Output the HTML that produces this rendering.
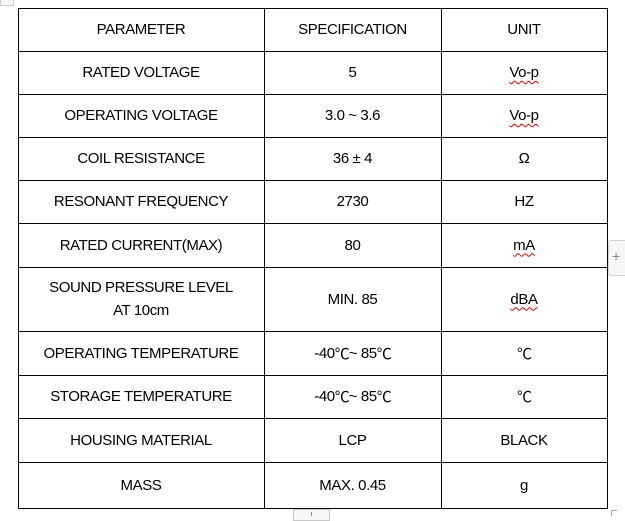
<!DOCTYPE html>
<html>
<head>
<meta charset="utf-8">
<style>
html,body{margin:0;padding:0;background:#fff;}
body{width:625px;height:516px;position:relative;overflow:hidden;font-family:"Liberation Sans","Noto Sans CJK SC",sans-serif;color:#000;}
.h{position:absolute;height:1px;background:#000;left:18px;width:590px;}
.v{position:absolute;width:1px;background:#000;top:8px;height:501px;}
.c{position:absolute;display:flex;align-items:center;justify-content:center;text-align:center;font-size:15px;letter-spacing:-0.4px;line-height:23px;}
.w{text-decoration:underline wavy #e00000;text-decoration-thickness:1px;text-underline-offset:3px;}
.deg{font-family:"Noto Sans CJK SC",sans-serif;letter-spacing:-1px;}
</style>
</head>
<body>
<!-- decorations -->
<div style="position:absolute;left:0;top:-6px;width:12px;height:10px;border:1px solid #ccc;background:#f6f6f6;"></div>
<div style="position:absolute;left:608px;top:240px;width:20px;height:34px;border:1px solid #d4d4d4;border-radius:3px;background:#f6f6f6;"></div>
<div style="position:absolute;left:612px;top:249px;font-size:14px;color:#888;line-height:14px;">+</div>
<div style="position:absolute;left:293px;top:509px;width:35px;height:10px;border:1px solid #c8c8c8;background:#f6f6f6;"></div>
<div style="position:absolute;left:311px;top:512px;width:1px;height:4px;background:#888;"></div>
<div style="position:absolute;left:611px;top:510px;width:5px;height:5px;border-left:1px solid #aaa;border-top:1px solid #aaa;"></div>

<!-- grid -->
<div class="h" style="top:8px"></div>
<div class="h" style="top:51px"></div>
<div class="h" style="top:94px"></div>
<div class="h" style="top:137px"></div>
<div class="h" style="top:180px"></div>
<div class="h" style="top:223px"></div>
<div class="h" style="top:267px"></div>
<div class="h" style="top:331px"></div>
<div class="h" style="top:375px"></div>
<div class="h" style="top:418px"></div>
<div class="h" style="top:462px"></div>
<div class="h" style="top:508px"></div>
<div class="v" style="left:18px"></div>
<div class="v" style="left:264px"></div>
<div class="v" style="left:441px"></div>
<div class="v" style="left:607px"></div>

<!-- row 1 -->
<div class="c" style="left:18px;width:246px;top:8px;height:43px;">PARAMETER</div>
<div class="c" style="left:264px;width:177px;top:8px;height:43px;">SPECIFICATION</div>
<div class="c" style="left:441px;width:166px;top:8px;height:43px;">UNIT</div>
<!-- row 2 -->
<div class="c" style="left:18px;width:246px;top:51px;height:43px;">RATED VOLTAGE</div>
<div class="c" style="left:264px;width:177px;top:51px;height:43px;">5</div>
<div class="c" style="left:441px;width:166px;top:51px;height:43px;"><span class="w">Vo-p</span></div>
<!-- row 3 -->
<div class="c" style="left:18px;width:246px;top:94px;height:43px;">OPERATING VOLTAGE</div>
<div class="c" style="left:264px;width:177px;top:94px;height:43px;">3.0 ~ 3.6</div>
<div class="c" style="left:441px;width:166px;top:94px;height:43px;"><span class="w">Vo-p</span></div>
<!-- row 4 -->
<div class="c" style="left:18px;width:246px;top:137px;height:43px;">COIL RESISTANCE</div>
<div class="c" style="left:264px;width:177px;top:137px;height:43px;">36 ± 4</div>
<div class="c" style="left:441px;width:166px;top:137px;height:43px;">Ω</div>
<!-- row 5 -->
<div class="c" style="left:18px;width:246px;top:180px;height:43px;">RESONANT FREQUENCY</div>
<div class="c" style="left:264px;width:177px;top:180px;height:43px;">2730</div>
<div class="c" style="left:441px;width:166px;top:180px;height:43px;">HZ</div>
<!-- row 6 -->
<div class="c" style="left:18px;width:246px;top:223px;height:44px;">RATED CURRENT(MAX)</div>
<div class="c" style="left:264px;width:177px;top:223px;height:44px;">80</div>
<div class="c" style="left:441px;width:166px;top:223px;height:44px;"><span class="w">mA</span></div>
<!-- row 7 -->
<div class="c" style="left:18px;width:246px;top:267px;height:64px;">SOUND PRESSURE LEVEL<br>AT 10cm</div>
<div class="c" style="left:264px;width:177px;top:267px;height:64px;">MIN. 85</div>
<div class="c" style="left:441px;width:166px;top:267px;height:64px;"><span class="w">dBA</span></div>
<!-- row 8 -->
<div class="c" style="left:18px;width:246px;top:331px;height:44px;">OPERATING TEMPERATURE</div>
<div class="c" style="left:264px;width:177px;top:331px;height:44px;">-40<span class="deg">℃</span>~ 85<span class="deg">℃</span></div>
<div class="c" style="left:441px;width:166px;top:331px;height:44px;"><span class="deg">℃</span></div>
<!-- row 9 -->
<div class="c" style="left:18px;width:246px;top:375px;height:43px;">STORAGE TEMPERATURE</div>
<div class="c" style="left:264px;width:177px;top:375px;height:43px;">-40<span class="deg">℃</span>~ 85<span class="deg">℃</span></div>
<div class="c" style="left:441px;width:166px;top:375px;height:43px;"><span class="deg">℃</span></div>
<!-- row 10 -->
<div class="c" style="left:18px;width:246px;top:418px;height:44px;">HOUSING MATERIAL</div>
<div class="c" style="left:264px;width:177px;top:418px;height:44px;">LCP</div>
<div class="c" style="left:441px;width:166px;top:418px;height:44px;">BLACK</div>
<!-- row 11 -->
<div class="c" style="left:18px;width:246px;top:462px;height:46px;">MASS</div>
<div class="c" style="left:264px;width:177px;top:462px;height:46px;">MAX. 0.45</div>
<div class="c" style="left:441px;width:166px;top:462px;height:46px;">g</div>
</body>
</html>
